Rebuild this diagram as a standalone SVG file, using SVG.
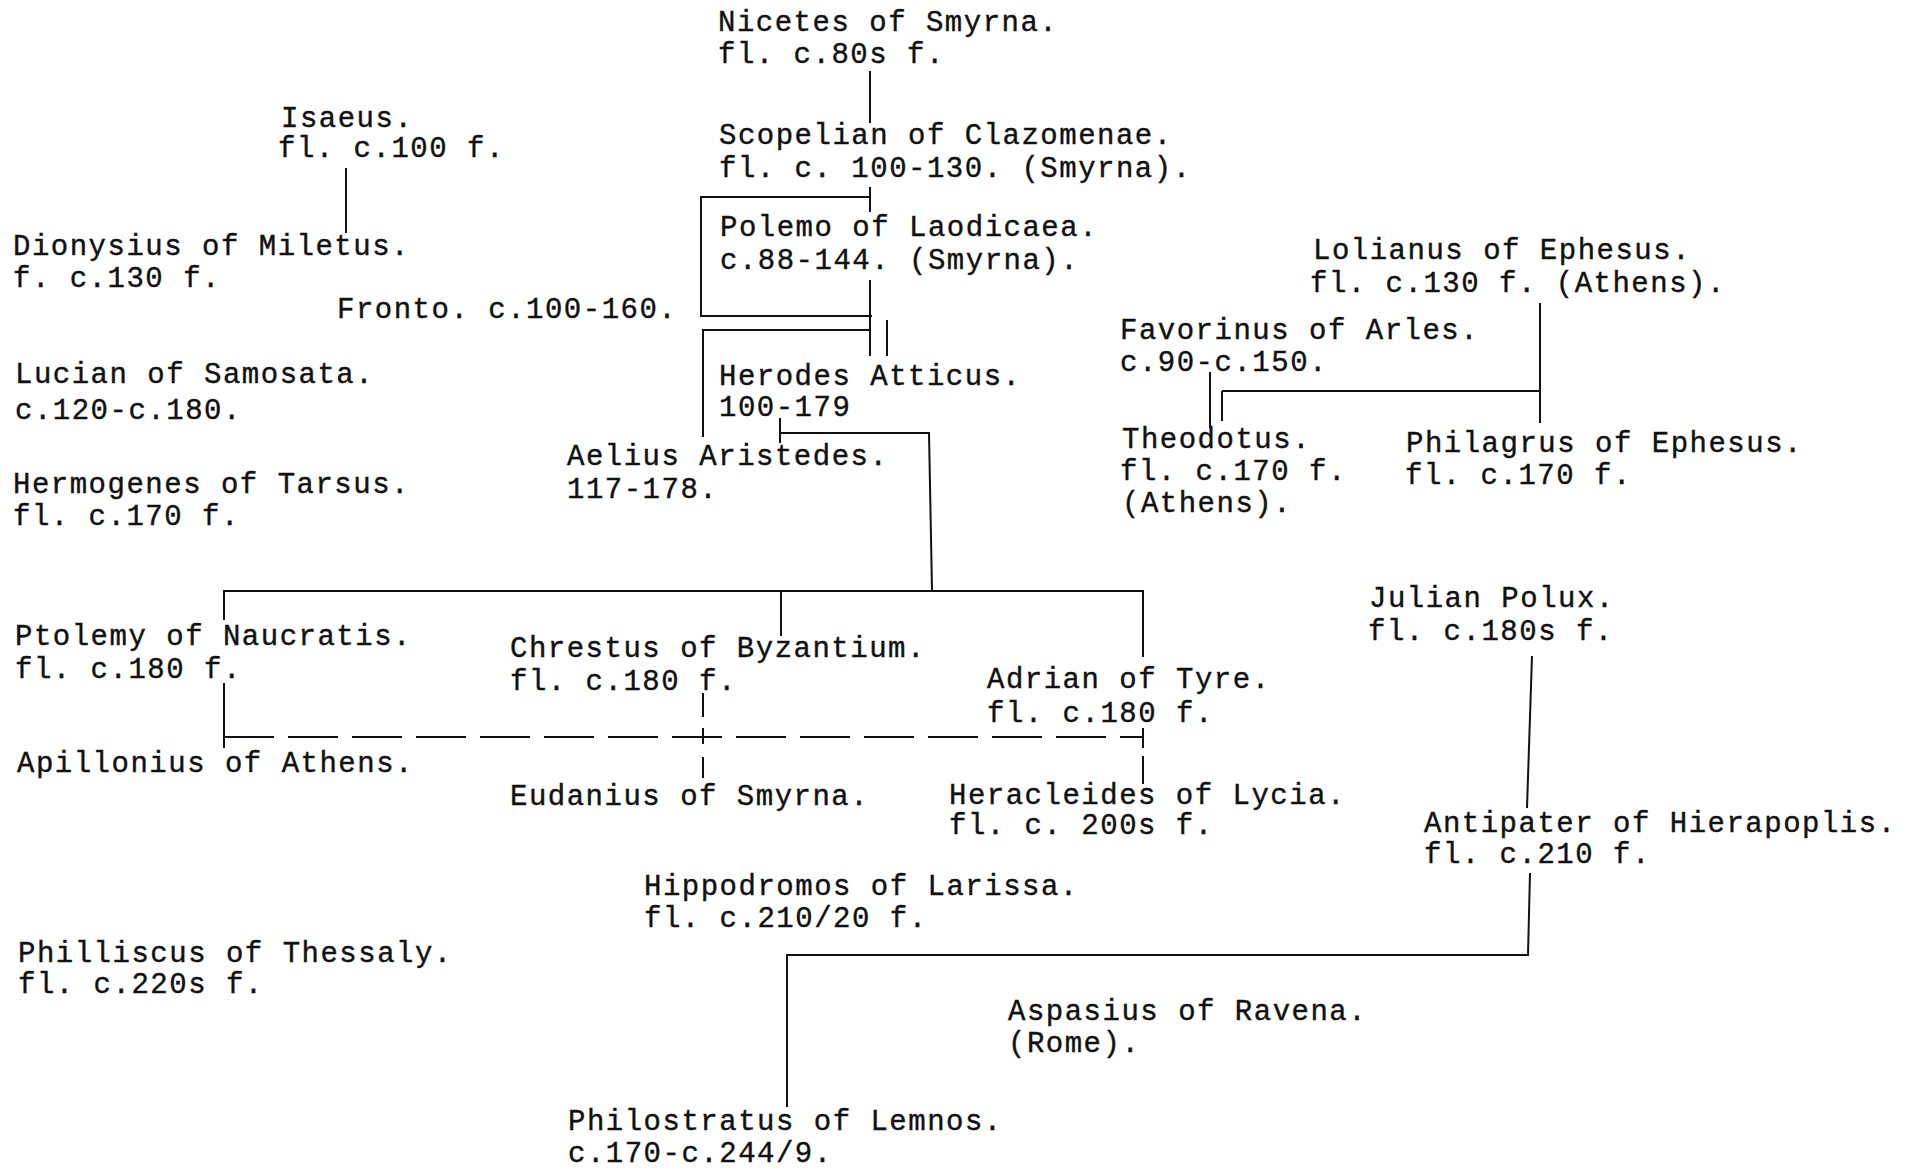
<svg xmlns="http://www.w3.org/2000/svg" width="1915" height="1171" viewBox="0 0 1915 1171">
<style>
text{font-family:"Liberation Mono","Courier New",monospace;font-size:29px;letter-spacing:1.5px;fill:#111;stroke:#111;stroke-width:0.4}
.c{stroke:#111;stroke-width:2;fill:none}
.d{stroke-dasharray:50 14}
</style>
<rect width="1915" height="1171" fill="#fff"/>
<g id="connectors">
<line class="c" x1="870" y1="71" x2="870" y2="123"/>
<line class="c" x1="346" y1="168" x2="346" y2="233"/>
<line class="c" x1="870" y1="187" x2="870" y2="212"/>
<polyline class="c" points="870,197 701,197 701,316 872,316"/>
<line class="c" x1="870" y1="280" x2="870" y2="356"/>
<line class="c" x1="887" y1="320" x2="887" y2="356"/>
<polyline class="c" points="870,330 703,330 703,437"/>
<line class="c" x1="780" y1="418" x2="780" y2="443"/>
<polyline class="c" points="780,433 929,433 932,590"/>
<polyline class="c" points="224,620 224,591 1143,591 1143,657"/>
<line class="c" x1="781" y1="591" x2="781" y2="636"/>
<line class="c" x1="224" y1="683" x2="224" y2="748"/>
<line class="c d" x1="224" y1="737" x2="1143" y2="737"/>
<line class="c" x1="703" y1="693" x2="703" y2="717"/>
<line class="c" x1="703" y1="728" x2="703" y2="744"/>
<line class="c" x1="703" y1="757" x2="703" y2="778"/>
<line class="c" x1="1143" y1="728" x2="1143" y2="748"/>
<line class="c" x1="1143" y1="756" x2="1143" y2="784"/>
<line class="c" x1="1210" y1="372" x2="1210" y2="428"/>
<line class="c" x1="1222" y1="391" x2="1222" y2="421"/>
<line class="c" x1="1222" y1="391" x2="1540" y2="391"/>
<line class="c" x1="1540" y1="303" x2="1540" y2="423"/>
<line class="c" x1="1532" y1="656" x2="1527" y2="808"/>
<polyline class="c" points="1530,873 1528,955 787,955 787,1107"/>
</g>
<g id="nicetes"><text x="718" y="31">Nicetes of Smyrna.</text><text x="718" y="63">fl. c.80s f.</text></g>
<g id="scopelian"><text x="719" y="144">Scopelian of Clazomenae.</text><text x="719" y="177">fl. c. 100-130. (Smyrna).</text></g>
<g id="isaeus"><text x="281" y="127">Isaeus.</text><text x="278" y="157">fl. c.100 f.</text></g>
<g id="dionysius"><text x="13" y="255">Dionysius of Miletus.</text><text x="13" y="287">f. c.130 f.</text></g>
<g id="fronto"><text x="337" y="318">Fronto. c.100-160.</text></g>
<g id="polemo"><text x="720" y="236">Polemo of Laodicaea.</text><text x="720" y="269">c.88-144. (Smyrna).</text></g>
<g id="lolianus"><text x="1313" y="259">Lolianus of Ephesus.</text><text x="1310" y="292">fl. c.130 f. (Athens).</text></g>
<g id="favorinus"><text x="1120" y="339">Favorinus of Arles.</text><text x="1120" y="371">c.90-c.150.</text></g>
<g id="lucian"><text x="15" y="383">Lucian of Samosata.</text><text x="15" y="419">c.120-c.180.</text></g>
<g id="herodes"><text x="719" y="385">Herodes Atticus.</text><text x="719" y="416">100-179</text></g>
<g id="aelius"><text x="567" y="465">Aelius Aristedes.</text><text x="567" y="498">117-178.</text></g>
<g id="theodotus"><text x="1122" y="448">Theodotus.</text><text x="1120" y="480">fl. c.170 f.</text><text x="1122" y="512">(Athens).</text></g>
<g id="philagrus"><text x="1406" y="452">Philagrus of Ephesus.</text><text x="1405" y="484">fl. c.170 f.</text></g>
<g id="hermogenes"><text x="13" y="493">Hermogenes of Tarsus.</text><text x="13" y="525">fl. c.170 f.</text></g>
<g id="julian"><text x="1369" y="607">Julian Polux.</text><text x="1368" y="640">fl. c.180s f.</text></g>
<g id="ptolemy"><text x="15" y="645">Ptolemy of Naucratis.</text><text x="15" y="678">fl. c.180 f.</text></g>
<g id="chrestus"><text x="510" y="657">Chrestus of Byzantium.</text><text x="510" y="690">fl. c.180 f.</text></g>
<g id="adrian"><text x="987" y="688">Adrian of Tyre.</text><text x="987" y="722">fl. c.180 f.</text></g>
<g id="apillonius"><text x="17" y="772">Apillonius of Athens.</text></g>
<g id="eudanius"><text x="510" y="805">Eudanius of Smyrna.</text></g>
<g id="heracleides"><text x="949" y="804">Heracleides of Lycia.</text><text x="949" y="834">fl. c. 200s f.</text></g>
<g id="antipater"><text x="1424" y="832">Antipater of Hierapoplis.</text><text x="1424" y="863">fl. c.210 f.</text></g>
<g id="hippodromos"><text x="644" y="895">Hippodromos of Larissa.</text><text x="644" y="927">fl. c.210/20 f.</text></g>
<g id="philliscus"><text x="18" y="962">Philliscus of Thessaly.</text><text x="18" y="993">fl. c.220s f.</text></g>
<g id="aspasius"><text x="1008" y="1020">Aspasius of Ravena.</text><text x="1008" y="1052">(Rome).</text></g>
<g id="philostratus"><text x="568" y="1130">Philostratus of Lemnos.</text><text x="568" y="1162">c.170-c.244/9.</text></g>
</svg>
